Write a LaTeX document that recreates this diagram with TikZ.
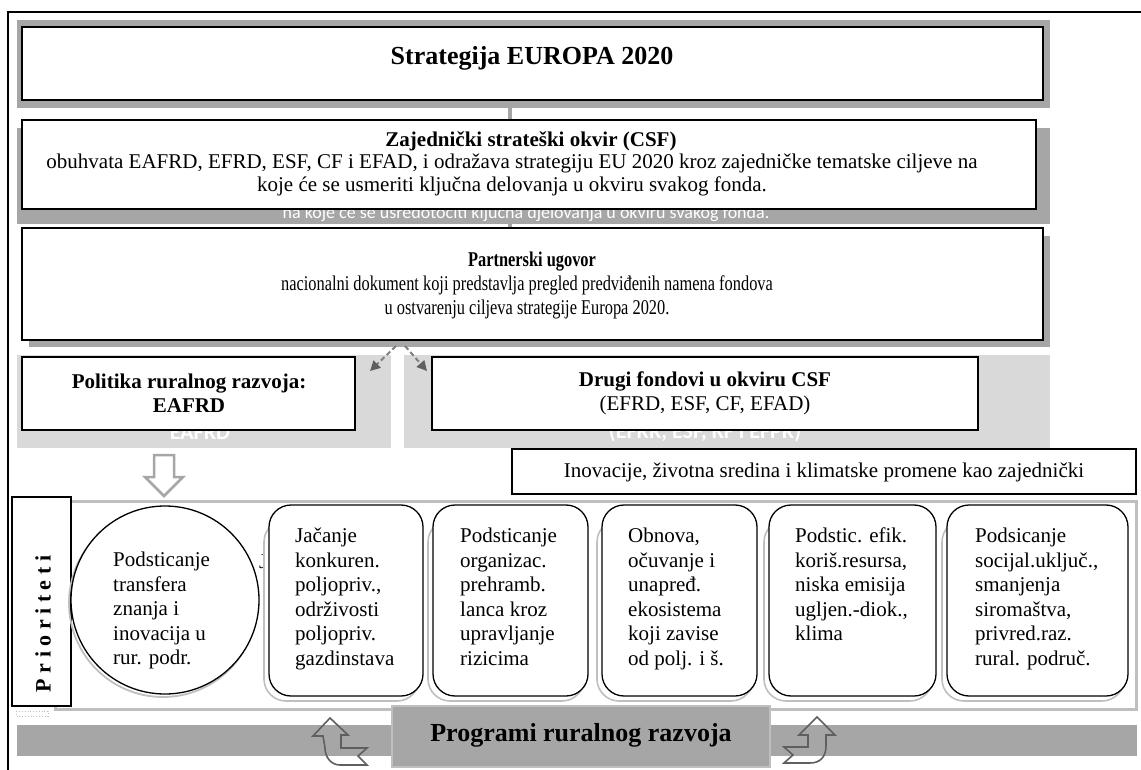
\documentclass[tikz,border=0pt]{standalone}
\usepackage{fontspec}
\setmainfont{Liberation Serif}
\newfontfamily\condfont[FakeStretch=0.78]{Liberation Serif}
\newfontfamily\fadedfont{Carlito}
\usetikzlibrary{arrows.meta,fit}

\definecolor{shadeD}{HTML}{A6A6A6}
\definecolor{shadeL}{HTML}{D9D9D9}
\definecolor{frameG}{HTML}{BFBFBF}
\definecolor{arrowG}{HTML}{7F7F7F}
\definecolor{arrowD}{HTML}{5F5F5F}

\tikzset{
  whitebox/.style={draw=black, line width=1.8pt, fill=white, inner sep=0pt},
  prio/.style={draw=black, line width=1.3pt, fill=white, inner sep=0pt, rounded corners=22pt},
  prioshade/.style={draw=frameG, line width=1.6pt, fill=white, inner sep=0pt, rounded corners=22pt},
  body/.style={font=\fontsize{21}{24.5}\selectfont, inner sep=0pt, align=left, anchor=north west},
  boxtext/.style={inner sep=0pt, align=center},
  faded/.style={text=white, inner sep=0pt, font=\fadedfont\bfseries\fontsize{22}{24}\selectfont},
  spine/.style={draw=shadeD, line width=4pt},
  dasharrow/.style={draw=arrowG, line width=2pt, dash pattern=on 5pt off 3pt,
    -{Triangle[length=10pt,width=10pt,fill=arrowD,color=arrowD]}},
  hollow/.style={draw=shadeD, line width=2.5pt, fill=white, line join=miter},
  bent/.style={draw=arrowD, line width=1.6pt, line join=miter},
}

\begin{document}
\begin{tikzpicture}[x=1pt,y=-1pt]
\useasboundingbox (0,0) rectangle (1141,770);

% outer frame
\draw[line width=2pt] (1141,12) -- (8,12) -- (8,770);

% vertical spine joining the three upper levels
\coordinate (spineTop) at (510,100);
\coordinate (spineBot) at (510,232);
\draw[spine] (spineTop) -- (spineBot);

% level 1
\fill[shadeD] (17,20) rectangle (1050,108);
\node[whitebox, fit={(22,27) (1043,100)}] (strat) {};
\node[boxtext, font=\bfseries\fontsize{26}{30}\selectfont] (stratT) at (532,58) {Strategija EUROPA 2020};

% level 2: common strategic framework
\fill[shadeD] (17,128) rectangle (1050,224);
\node[faded, font=\fadedfont\fontsize{18}{20}\selectfont] (csfF) at (526,214)
  {na koje će se usredotočiti ključna djelovanja u okviru svakog fonda.};
\node[whitebox, fit={(22,120) (1036,209)}] (csf) {};
\node[boxtext, font=\bfseries\fontsize{21}{23}\selectfont] (csfT) at (531,141) {Zajednički strateški okvir (CSF)};
\node[boxtext, font=\fontsize{21}{22.5}\selectfont] (csfB) at (512,175)
  {obuhvata EAFRD, EFRD, ESF, CF i EFAD, i odražava strategiju EU 2020 kroz zajedničke tematske ciljeve na\\
   koje će se usmeriti ključna delovanja u okviru svakog fonda.};

% level 3: partnership agreement
\fill[shadeD] (29,236) rectangle (1050,347);
\node[whitebox, fit={(22,228) (1043,340)}] (partner) {};
\node[boxtext, font=\condfont\bfseries\fontsize{21}{24}\selectfont] (partnerT) at (532,262) {Partnerski ugovor};
\node[boxtext, font=\condfont\fontsize{21}{24}\selectfont] (partnerB) at (527,297)
  {nacionalni dokument koji predstavlja pregled predviđenih namena fondova\\
   u ostvarenju ciljeva strategije Europa 2020.};

% level 4: funds
\fill[shadeL] (17,355) rectangle (391,448);
\node[faded] (polF) at (200,432) {EAFRD};
\node[whitebox, fit={(22,357) (355,430)}] (pol) {};
\node[boxtext, font=\bfseries\fontsize{21}{24}\selectfont] (polT) at (189,393)
  {Politika ruralnog razvoja:\\EAFRD};

\fill[shadeL] (404,355) rectangle (1050,448);
\node[faded] (druF) at (705,432) {(EFRR, ESF, KF i EFPR)};
\node[whitebox, fit={(432,357) (978,430)}] (dru) {};
\node[boxtext, font=\fontsize{21}{24}\selectfont] (druT) at (705,393)
  {\textbf{Drugi fondovi u okviru CSF}\\(EFRD, ESF, CF, EFAD)};

% split arrows from the agreement
\coordinate (splitL) at (396,346);
\coordinate (splitR) at (405,346);
\coordinate (headL) at (370,371);
\coordinate (headR) at (427,371);
\draw[dasharrow] (splitL) -- (headL);
\draw[dasharrow] (splitR) -- (headR);

% hollow arrow down to the priorities
\draw[hollow] (154,455) -- (174,455) -- (174,477) -- (183,477) -- (164,496)
  -- (145,477) -- (154,477) -- cycle;

% common objectives strip
\node[whitebox, line width=1.5pt, fit={(512,449) (1136,494)}] (inov) {};
\node[boxtext, font=\fontsize{21}{24}\selectfont] (inovT) at (824,472)
  {Inovacije, životna sredina i klimatske promene kao zajednički};

% priorities frame
\draw[draw=frameG, line width=3pt] (55,501) rectangle (1136,709);
\node[whitebox, line width=1.5pt, fit={(12,497) (71,706)}] (prior) {};
\node[inner sep=0pt, rotate=90, font=\bfseries\fontsize{22}{24}\selectfont] (priorT) at (43,624)
  {P r i o r i t e t i};
\draw[draw=frameG, line width=0.8pt, dotted] (16,711) rectangle (48,716);

% priority 1 (circle)
\draw[draw=frameG, line width=1.8pt] (163,603) circle[radius=94];
\node[circle, draw=black, line width=1.3pt, fill=white, minimum size=188pt, inner sep=0pt] (p1) at (165,600) {};
\node[body] (p1T) at (113,552) {Podsticanje\\transfera\\znanja i\\inovacija u\\rur. podr.};

% priorities 2-6
\node[font=\fontsize{21}{24.5}\selectfont, inner sep=0pt, anchor=base west] (p2H) at (259,568) {J};
\node[prioshade, fit={(264,520) (419,701)}] (p2S) {};
\node[prio, fit={(269,505) (423,696)}] (p2) {};
\node[body] (p2T) at (295,528) {Jačanje\\konkuren.\\poljopriv.,\\održivosti\\poljopriv.\\gazdinstava};

\node[prioshade, fit={(428,520) (584,701)}] (p3S) {};
\node[prio, fit={(433,505) (588,696)}] (p3) {};
\node[body] (p3T) at (460,528) {Podsticanje\\organizac.\\prehramb.\\lanca kroz\\upravljanje\\rizicima};

\node[prioshade, fit={(597,520) (753,701)}] (p4S) {};
\node[prio, fit={(602,505) (757,696)}] (p4) {};
\node[body] (p4T) at (628,528) {Obnova,\\očuvanje i\\unapređ.\\ekosistema\\koji zavise\\od polj. i š.};

\node[prioshade, fit={(764,520) (932,701)}] (p5S) {};
\node[prio, fit={(769,505) (936,696)}] (p5) {};
\node[body] (p5T) at (795,528) {Podstic. efik.\\koriš.resursa,\\niska emisija\\ugljen.-diok.,\\klima};

\node[prioshade, fit={(942,520) (1124,701)}] (p6S) {};
\node[prio, fit={(947,505) (1128,696)}] (p6) {};
\node[body] (p6T) at (975,528) {Podsicanje\\socijal.uključ.,\\smanjenja\\siromaštva,\\privred.raz.\\rural. područ.};

% rural development programmes bar
\fill[shadeD] (17,725) rectangle (1137,756);
\node[fill=shadeD, draw=frameG, line width=1.5pt, inner sep=0pt, fit={(392,706) (770,767)}] (prog) {};
\node[boxtext, font=\bfseries\fontsize{26}{30}\selectfont] (progT) at (581,735) {Programi ruralnog razvoja};

% curved arrows beside the bar
\draw[bent] (330,718) -- (348,735) -- (341,735) -- (341,748) -- (367,748) -- (358,756)
  -- (367,765) -- (340,765) .. controls (331,765) and (325,757) .. (325,748)
  -- (323,736) -- (313,736) -- cycle;
\draw[bent] (817,717) -- (835,735) -- (826,735) -- (826,746)
  .. controls (826,757) and (820,763) .. (810,763) -- (784,763) -- (793,755)
  -- (784,747) -- (808,747) -- (808,735) -- (799,735) -- cycle;
\end{tikzpicture}
\end{document}
